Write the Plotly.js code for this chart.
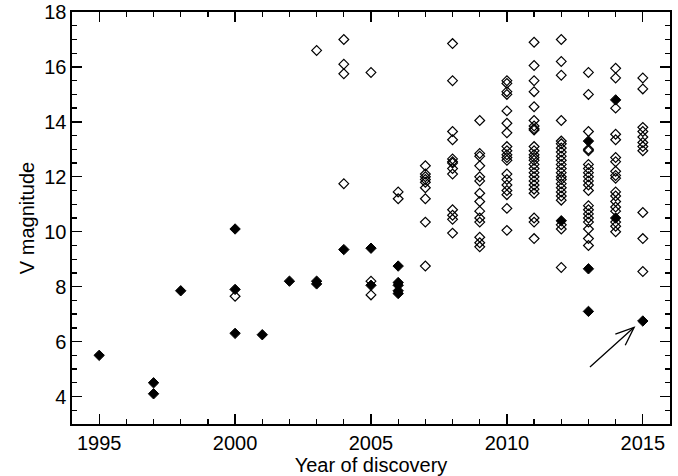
<!DOCTYPE html>
<html>
<head>
<meta charset="utf-8">
<script src="https://cdn.plot.ly/plotly-3.0.1.min.js"></script>
<style>html,body{margin:0;padding:0;background:#fff}#chart{width:678px;height:476px}</style>
</head>
<body>
<div id="chart"></div>
<script>
// Open diamonds: year and V magnitudes found that year
const openYears = [2000, 2003, 2004, 2005, 2006, 2007, 2008, 2009, 2010, 2011, 2012, 2013, 2014, 2015];
const openMags = [
  [7.65],
  [16.6],
  [17.0, 16.1, 15.75, 11.75],
  [15.8, 8.2, 7.7],
  [11.45, 11.2],
  [12.4, 12.1, 12.0, 11.9, 11.8, 11.6, 11.2, 10.35, 8.75],
  [16.85, 15.5, 13.65, 13.35, 12.65, 12.55, 12.5, 12.3, 12.1, 10.8, 10.6, 10.45, 9.95],
  [14.05, 12.85, 12.75, 12.4, 12.0, 11.85, 11.4, 11.1, 10.75, 10.5, 10.35, 9.8, 9.6, 9.45],
  [15.5, 15.4, 15.1, 15.0, 14.4, 13.95, 13.6, 13.1, 12.95, 12.8, 12.7, 12.6, 12.1, 11.9, 11.7, 11.5, 11.35, 10.85, 10.05],
  [16.9, 16.05, 15.5, 15.1, 14.55, 14.05, 13.85, 13.75, 13.7, 13.1, 12.95, 12.8, 12.7, 12.6, 12.45, 12.3, 12.15, 12.0, 11.85, 11.7, 11.55, 11.4, 10.5, 10.35, 9.75],
  [17.0, 16.2, 15.7, 14.05, 13.3, 13.2, 13.05, 12.9, 12.75, 12.6, 12.45, 12.3, 12.15, 12.0, 11.9, 11.75, 11.6, 11.45, 11.3, 11.15, 10.25, 10.1, 8.7],
  [15.8, 15.0, 13.65, 13.0, 12.95, 12.45, 12.3, 12.15, 12.0, 11.85, 11.7, 11.5, 10.95, 10.8, 10.65, 10.5, 10.35, 10.1, 9.75, 9.5],
  [15.95, 15.6, 14.5, 13.55, 13.35, 12.7, 12.55, 12.2, 12.05, 11.95, 11.45, 11.3, 11.1, 10.9, 10.75, 10.35, 10.2, 10.0],
  [15.6, 15.2, 13.8, 13.65, 13.45, 13.25, 13.1, 12.95, 10.7, 9.75, 8.55]
];
// Filled diamonds
const filledYears = [1995, 1997, 1998, 2000, 2001, 2002, 2003, 2004, 2005, 2006, 2012, 2013, 2014, 2015];
const filledMags = [
  [5.5],
  [4.5, 4.1],
  [7.85],
  [10.1, 7.9, 6.3],
  [6.25],
  [8.2],
  [8.2, 8.1],
  [9.35],
  [9.4, 8.05],
  [8.75, 8.15, 8.05, 7.85, 7.75],
  [10.4],
  [13.3, 8.65, 7.1],
  [14.8, 10.5],
  [6.75]
];
// Arrow pointing at the 2015 filled point: [tail, head] in data units
const arrowX = [2013.0, 2014.68];
const arrowY = [5.03, 6.52];
const xTickVals = [1995, 2000, 2005, 2010, 2015];
const yTickVals = [4, 6, 8, 10, 12, 14, 16, 18];

function flatten(years, mags) {
  const x = [], y = [];
  years.forEach((yr, i) => mags[i].forEach(m => { x.push(yr); y.push(m); }));
  return {x, y};
}
const op = flatten(openYears, openMags);
const fp = flatten(filledYears, filledMags);

const font = {family: 'Liberation Sans, Arial, Helvetica, sans-serif', color: '#000'};

const traces = [
  {x: op.x, y: op.y, type: 'scatter', mode: 'markers', cliponaxis: false,
   marker: {symbol: 'diamond-open', size: 7.5, color: '#000', line: {width: 1.2, color: '#000'}}},
  {x: fp.x, y: fp.y, type: 'scatter', mode: 'markers', cliponaxis: false,
   marker: {symbol: 'diamond', size: 8, color: '#000', line: {width: 1, color: '#000'}}}
];

const axis = {
  showgrid: false, zeroline: false, showline: true, linecolor: '#000', linewidth: 1.6,
  mirror: 'allticks', ticks: 'inside', ticklen: 10, tickwidth: 1.3, tickcolor: '#000',
  tickfont: Object.assign({size: 20}, font)
};
const layout = {
  width: 678, height: 476,
  margin: {l: 72, r: 8, t: 12, b: 52},
  paper_bgcolor: '#fff', plot_bgcolor: '#fff',
  showlegend: false,
  font: font,
  xaxis: Object.assign({}, axis, {
    range: [1994, 2016], tickvals: xTickVals, ticklabelstandoff: 0,
    minor: {dtick: 1, ticks: 'inside', ticklen: 5, tickwidth: 1.3, tickcolor: '#000'},
    title: {text: 'Year of discovery', font: Object.assign({size: 20}, font), standoff: 0}
  }),
  yaxis: Object.assign({}, axis, {
    range: [3, 18], tickvals: yTickVals,
    minor: {dtick: 0.5, ticks: 'inside', ticklen: 5, tickwidth: 1.3, tickcolor: '#000'},
    title: {text: 'V magnitude', font: Object.assign({size: 20}, font), standoff: 4}
  }),
  annotations: [{
    x: arrowX[1], y: arrowY[1], ax: arrowX[0], ay: arrowY[0],
    xref: 'x', yref: 'y', axref: 'x', ayref: 'y',
    showarrow: true, text: '', arrowhead: 0, arrowwidth: 1.3, arrowcolor: '#000'
  }]
};

Plotly.newPlot('chart', traces, layout, {displayModeBar: false, staticPlot: true}).then(() => {
  const gd = document.getElementById('chart');
  const xa = gd._fullLayout.xaxis, ya = gd._fullLayout.yaxis;
  const px = v => xa.l2p(v), py = v => ya.l2p(v);
  const hx = px(arrowX[1]), hy = py(arrowY[1]);
  const tx = px(arrowX[0]), ty = py(arrowY[0]);
  const ang = Math.atan2(hy - ty, hx - tx);
  const L = 20, spread = 0.38;
  const b1x = hx - L * Math.cos(ang - spread), b1y = hy - L * Math.sin(ang - spread);
  const b2x = hx - L * Math.cos(ang + spread), b2y = hy - L * Math.sin(ang + spread);
  const path = 'M ' + xa.p2l(b1x) + ' ' + ya.p2l(b1y) + ' L ' + arrowX[1] + ' ' + arrowY[1] +
               ' L ' + xa.p2l(b2x) + ' ' + ya.p2l(b2y);
  Plotly.relayout(gd, {shapes: [{type: 'path', xref: 'x', yref: 'y', path: path,
    line: {color: '#000', width: 1.3}}]});
});
</script>
</body>
</html>
